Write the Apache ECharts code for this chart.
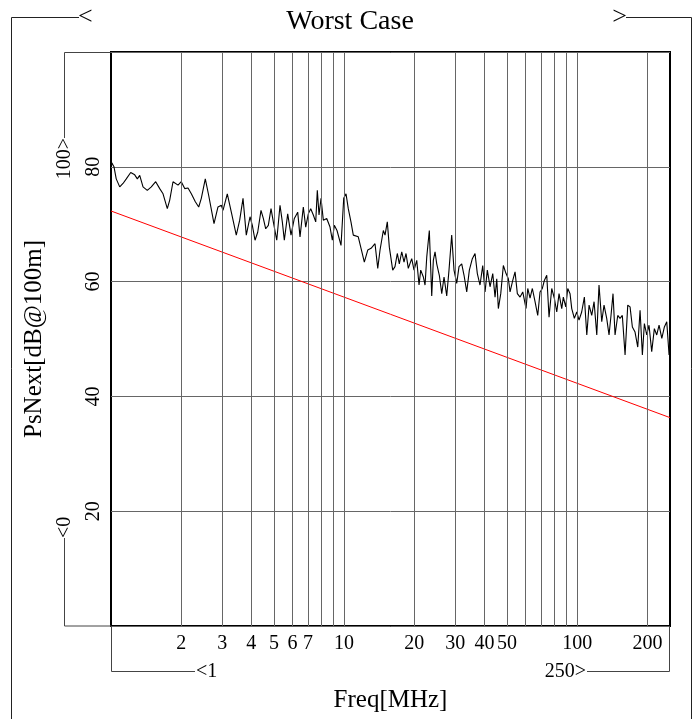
<!DOCTYPE html>
<html>
<head>
<meta charset="utf-8">
<script src="https://cdn.jsdelivr.net/npm/echarts@6/dist/echarts.min.js"></script>
<style>
  html, body { margin: 0; padding: 0; background: #fff; }
  #chart { width: 700px; height: 719px; }
</style>
</head>
<body>
<div id="chart"></div>
<script>
// Measured power-sum NEXT (dB @ 100 m) against frequency (MHz)
const freqMHz = [
  1.0, 1.01, 1.03, 1.053, 1.09, 1.126, 1.163, 1.215, 1.264, 1.297, 1.328,
  1.372, 1.431, 1.489, 1.555, 1.618, 1.672, 1.744, 1.786, 1.845, 1.939,
  2.002, 2.071, 2.14, 2.211, 2.3, 2.378, 2.44, 2.538, 2.625, 2.766,
  2.877, 2.973, 3.023, 3.154, 3.282, 3.447, 3.565, 3.684, 3.805,
  3.948, 4.039, 4.148, 4.259, 4.4, 4.502, 4.61, 4.73, 4.858, 4.97,
  5.14, 5.309, 5.432, 5.54, 5.728, 5.918, 6.115, 6.323, 6.469, 6.683,
  6.844, 7.021, 7.19, 7.378, 7.555, 7.674, 7.804, 7.96, 8.143, 8.422,
  8.7, 8.901, 9.078, 9.322, 9.698, 9.961, 10.19, 10.42, 10.7, 10.95,
  11.14, 11.5, 11.82, 12.21, 12.63, 13.05, 13.57, 13.94,
  14.26, 14.73, 14.98, 15.32, 15.63, 16.16, 16.53, 16.91, 17.25, 17.67,
  18.07, 18.43, 18.85, 19.5, 19.95, 20.49, 20.96, 21.31, 21.87, 22.24,
  22.62, 23.2, 23.76, 24.14, 24.55, 24.96, 25.61, 26.23, 26.83, 27.55,
  28.18, 28.94, 29.61, 30.41, 31.11, 31.95, 32.69, 33.57, 34.45, 35.48,
  36.44, 37.28, 38.28, 39.32, 40.23, 41.15, 42.26, 43.41, 44.41, 45.16,
  45.88, 46.98, 48.2, 49.51, 50.64, 51.5, 52.89, 54.11, 55.35, 56.85,
  58.39, 60.32,
  61.34, 62.74, 64.19, 65.92, 67.69, 69.25, 70.85, 72.27, 74, 75.69,
  77.74, 79.77, 81.68, 83.55, 85.81, 87.18, 89.27, 91.06, 93.14, 94.72,
  97.19, 99.52, 101.8, 104.5, 107.3, 109.9, 112.4, 115.4, 118.1, 121.3,
  124, 127.4, 130.3, 133.8, 136.9, 139.6, 142.4, 145.3, 149.2, 152.6,
  156.1, 160.4, 164.7, 168.5, 172.4, 177, 181.8, 186, 190.3, 194.1,
  198.7, 203.2, 208.7, 214.2, 219.3, 224.4, 230.6, 236.5, 242.1, 247.7
];
const psNextDb = [
  81.0, 80.6, 80.0, 77.9, 76.5, 77.1, 77.9, 79.0, 78.6, 77.9, 78.5,
  76.5, 75.9, 76.5, 77.4, 76.2, 75.3, 72.7, 74.2, 77.4, 76.8,
  77.4, 76.2, 76.3, 75.3, 73.9, 73.0, 74.5, 77.9, 75.0, 70.1,
  73.0, 73.3, 72.4, 75.3, 72.1, 68.1, 70.7, 74.5, 68.1,
  71.3, 69.8, 67.2, 68.6, 72.4, 71.0, 69.2, 69.8, 72.7, 70.4,
  67.2, 73.3, 70.4, 67.2, 71.8, 68.1, 71.0, 72.1, 67.8, 73.0,
  69.5, 71.8, 72.7, 71.6, 70.4, 75.9, 71.6, 74.5, 70.7, 71.0,
  69.5, 67.2, 69.8, 68.9, 66.3, 74.5, 75.3, 72.7, 70.4, 68.1,
  67.8, 67.8, 65.8, 63.4, 65.5, 65.8, 66.6, 62.3,
  65.5, 68.9, 68.1, 70.4, 66.0, 62.0, 62.6, 64.9, 63.1, 65.2,
  63.4, 64.9, 62.3, 64.0, 62.0, 63.7, 59.4, 62.0, 60.8, 59.4,
  64.3, 68.9, 57.5, 63.7, 65.2, 63.1, 61.1, 57.9, 60.8, 57.5,
  62.0, 68.1, 62.0, 59.7, 62.6, 63.1, 61.1, 58.2, 62.0, 64.0,
  64.9, 61.4, 59.4, 62.8, 58.2, 62.0, 59.1, 61.4, 57.3, 60.5,
  55.3, 57.9, 62.8, 61.4, 60.5, 58.2, 60.2, 61.7, 57.9, 57.3,
  58.2, 55.3,
  58.8, 57.1, 58.8, 56.5, 54.1, 58.2, 58.8, 60.2, 61.1, 53.8,
  58.8, 57.1, 54.7, 57.9, 55.3, 57.3, 55.6, 58.8, 57.9, 55.3,
  53.6, 54.7, 53.3, 54.7, 57.3, 50.7, 55.9, 54.1, 56.5, 50.7,
  59.4, 53.0, 55.9, 53.6, 50.7, 54.1, 57.9, 50.7, 54.1, 53.6,
  54.1, 47.2, 55.9, 55.6, 52.1, 51.2, 48.6, 55.0, 47.2, 52.7,
  50.7, 52.4, 47.8, 51.8, 50.7, 52.4, 50.1, 52.1, 53.0, 47.2
];

// Limit line end points
const limitFreqMHz = [1, 250];
const limitDb = [72.3, 36.3];

// Axis ranges, grid lines and tick labels
const freqRange = [1, 250];
const dbRange = [0, 100];
const dbStep = 20;
const freqGridLines = [2, 3, 4, 5, 6, 7, 8, 9, 10, 20, 30, 40, 50, 60, 70, 80, 90, 100, 200];
const freqTickLabels = [2, 3, 4, 5, 6, 7, 10, 20, 30, 40, 50, 100, 200];

const FONT = 'Liberation Serif';
const GRID_COLOR = '#666';

const chart = echarts.init(document.getElementById('chart'), null, { renderer: 'canvas' });

chart.setOption({
  animation: false,
  backgroundColor: '#fff',
  title: {
    text: 'Worst Case',
    left: 'center',
    top: 3,
    textStyle: { fontFamily: FONT, fontSize: 28, fontWeight: 'normal', color: '#000' }
  },
  grid: {
    left: 111, top: 52, width: 559, height: 574,
    show: true, borderColor: '#000', borderWidth: 2, backgroundColor: 'transparent'
  },
  xAxis: {
    type: 'log',
    logBase: 10,
    min: freqRange[0],
    max: freqRange[1],
    name: 'Freq[MHz]',
    nameLocation: 'middle',
    nameGap: 62,
    nameTextStyle: { fontFamily: FONT, fontSize: 25, color: '#000' },
    axisLine: { show: false },
    axisTick: { show: false },
    splitLine: { show: false },
    axisLabel: {
      customValues: freqTickLabels,
      formatter: v => String(Math.round(v * 1000) / 1000),
      fontFamily: FONT, fontSize: 20, color: '#000', margin: 8, hideOverlap: false
    }
  },
  yAxis: {
    type: 'value',
    min: dbRange[0],
    max: dbRange[1],
    interval: dbStep,
    name: 'PsNext[dB@100m]',
    nameLocation: 'middle',
    nameRotate: 90,
    nameGap: 64,
    nameTextStyle: { fontFamily: FONT, fontSize: 25, color: '#000' },
    axisLine: { show: false },
    axisTick: { show: false },
    splitLine: { show: true, lineStyle: { color: GRID_COLOR, width: 1 } },
    axisLabel: {
      rotate: 90,
      margin: 7,
      fontFamily: FONT, fontSize: 20, color: '#000',
      formatter: v => (v === dbRange[0] || v === dbRange[1]) ? '' : String(v)
    }
  },
  series: [
    {
      name: 'Limit',
      type: 'line',
      z: 2,
      showSymbol: false,
      silent: true,
      data: limitFreqMHz.map((f, i) => [f, limitDb[i]]),
      lineStyle: { color: '#ff0000', width: 1 },
      markLine: {
        silent: true,
        animation: false,
        symbol: ['none', 'none'],
        label: { show: false },
        lineStyle: { color: GRID_COLOR, width: 1, type: 'solid' },
        emphasis: { disabled: true },
        data: freqGridLines.map(f => ({ xAxis: f }))
      }
    },
    {
      name: 'PsNext',
      type: 'line',
      z: 3,
      showSymbol: false,
      silent: true,
      data: freqMHz.map((f, i) => [f, psNextDb[i]]),
      lineStyle: { color: '#000', width: 1.1 }
    }
  ]
});

// Range brackets around the plot, placed from the axis scales
const cornerLow = chart.convertToPixel({ gridIndex: 0 }, [freqRange[0], dbRange[0]]);
const cornerHigh = chart.convertToPixel({ gridIndex: 0 }, [freqRange[1], dbRange[1]]);
const plotLeft = cornerLow[0], plotBottom = cornerLow[1];
const plotRight = cornerHigh[0], plotTop = cornerHigh[1];
const bx = Math.round(plotLeft - 47) + 0.5;
const by = Math.round(plotBottom + 45) + 0.5;
const BRACKET = { stroke: '#444', lineWidth: 1, fill: null };
const FRAME = { stroke: '#222', lineWidth: 1, fill: null };
const labelStyle = (text, align, size) => ({
  text, x: 0, y: 0, align, verticalAlign: 'middle',
  font: `${size || 20}px "${FONT}"`, fill: '#000'
});

chart.setOption({
  graphic: [
    { type: 'polyline', silent: true, shape: { points: [[11.5, 719], [11.5, 17.5], [79, 17.5]] }, style: FRAME },
    { type: 'text', silent: true, x: 78, y: 17, style: labelStyle('<', 'left', 26) },
    { type: 'polyline', silent: true, shape: { points: [[626, 17.5], [691.5, 17.5], [691.5, 719]] }, style: FRAME },
    { type: 'text', silent: true, x: 627, y: 17, style: labelStyle('>', 'right', 26) },

    { type: 'polyline', silent: true, shape: { points: [[plotLeft, plotTop + 0.5], [bx, plotTop + 0.5], [bx, plotTop + 86]] }, style: BRACKET },
    { type: 'text', silent: true, x: bx, y: plotTop + 86, rotation: Math.PI / 2, style: labelStyle(dbRange[1] + '>', 'right') },
    { type: 'polyline', silent: true, shape: { points: [[plotLeft, plotBottom], [bx, plotBottom], [bx, plotBottom - 88]] }, style: BRACKET },
    { type: 'text', silent: true, x: bx, y: plotBottom - 88, rotation: Math.PI / 2, style: labelStyle('<' + dbRange[0], 'left') },

    { type: 'polyline', silent: true, shape: { points: [[plotLeft + 0.5, plotBottom], [plotLeft + 0.5, by], [plotLeft + 84, by]] }, style: BRACKET },
    { type: 'text', silent: true, x: plotLeft + 85, y: by, style: labelStyle('<' + freqRange[0], 'left') },
    { type: 'polyline', silent: true, shape: { points: [[plotRight - 0.5, plotBottom], [plotRight - 0.5, by], [plotRight - 83, by]] }, style: BRACKET },
    { type: 'text', silent: true, x: plotRight - 84, y: by, style: labelStyle(freqRange[1] + '>', 'right') }
  ]
});
</script>
</body>
</html>
